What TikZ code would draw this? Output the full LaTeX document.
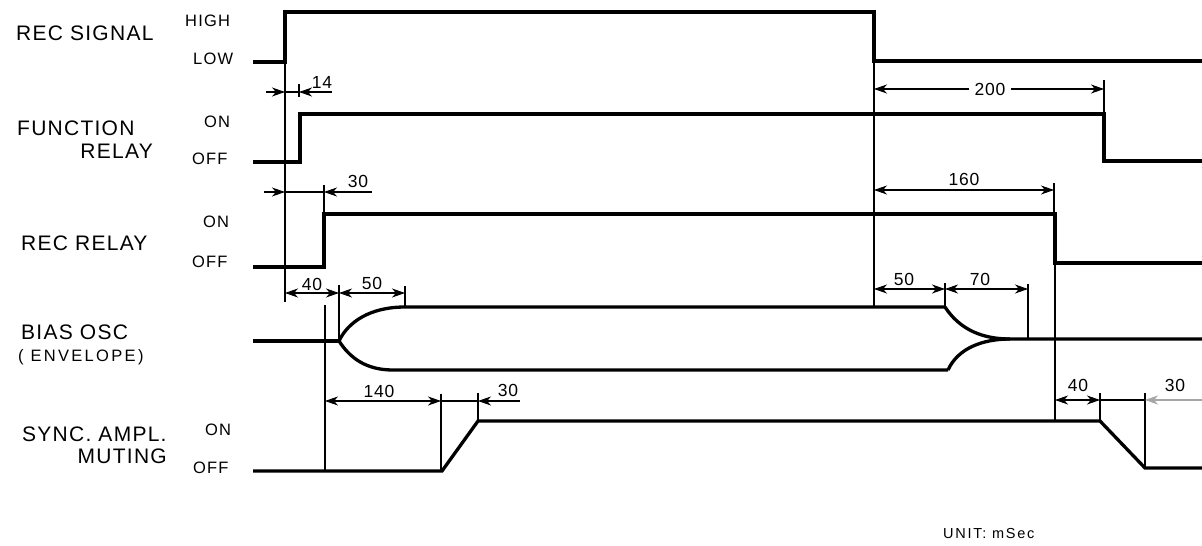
\documentclass[tikz,border=0pt]{standalone}
\usepackage{fontspec}
\setmainfont{Liberation Sans}
\usetikzlibrary{arrows.meta}
\begin{document}
\begin{tikzpicture}[x=1pt,y=-1pt,
  sig/.style={line width=3.3pt, line join=miter},
  ext/.style={line width=1.2pt},
  tipA/.style={line width=1.2pt,-{Stealth[length=13pt,width=9pt,inset=4pt,line width=0.8pt]}},
  bothA/.style={line width=1.2pt,{Stealth[length=13pt,width=9pt,inset=4pt,line width=0.8pt]}-{Stealth[length=13pt,width=9pt,inset=4pt,line width=0.8pt]}},
  biglbl/.style={font=\fontsize{21}{21}\selectfont\addfontfeature{LetterSpace=6}, inner sep=0pt},
  lvl/.style={font=\fontsize{16.5}{16.5}\selectfont\addfontfeature{LetterSpace=7}, inner sep=0pt},
  envlbl/.style={font=\fontsize{16.5}{16.5}\selectfont\addfontfeature{LetterSpace=14}, inner sep=0pt},
  num/.style={font=\fontsize{17.5}{17.5}\selectfont\addfontfeature{LetterSpace=5}, inner sep=0pt},
]
\path[use as bounding box] (0,0) rectangle (1202,546);

% ---------- left labels ----------
\node[biglbl, anchor=base west] (lrec) at (16,40) {REC SIGNAL};
\node[lvl, anchor=base west] (lhigh) at (185,26) {HIGH};
\node[lvl, anchor=base west] (llow) at (193,64) {LOW};
\node[biglbl, anchor=base west] (lfun) at (17,135) {FUNCTION};
\node[biglbl, anchor=base east] (lfun2) at (153,158) {RELAY};
\node[lvl, anchor=base west] (lfon) at (204,127) {ON};
\node[lvl, anchor=base west] (lfoff) at (192,164) {OFF};
\node[biglbl, anchor=base west] (lrr) at (21,250) {REC RELAY};
\node[lvl, anchor=base west] (lron) at (203,227) {ON};
\node[lvl, anchor=base west] (lroff) at (192,267) {OFF};
\node[biglbl, anchor=base west] (lbias) at (21,339) {BIAS OSC};
\node[envlbl, anchor=base west] (lenv) at (18,361) {( ENVELOPE)};
\node[biglbl, anchor=base west] (lsync) at (22,441) {SYNC. AMPL.};
\node[biglbl, anchor=base east] (lmut) at (167,463) {MUTING};
\node[lvl, anchor=base west] (lson) at (205,435) {ON};
\node[lvl, anchor=base west] (lsoff) at (193,473) {OFF};
\node[font=\fontsize{14.5}{14.5}\selectfont\addfontfeature{LetterSpace=12}, inner sep=0pt, anchor=base west] (unit) at (943,538) {UNIT: mSec};

% ---------- signals ----------
\draw[sig] (253,62) -- (285,62) -- (285,12) -- (874,12) -- (874,61) -- (1202,61);
\draw[sig] (253,162) -- (300,162) -- (300,114) -- (1104,114) -- (1104,161) -- (1202,161);
\draw[sig] (253,267) -- (324,267) -- (324,214) -- (1055,214) -- (1055,263) -- (1202,263);
% bias osc envelope
\draw[sig] (253,341) -- (339,341);
\draw[sig] (339,341) .. controls (348,322) and (370,307) .. (405,307) -- (945,307);
\draw[sig] (339,341) .. controls (350,358) and (366,370) .. (393,370) -- (948,370);
\draw[sig] (945,307) .. controls (960,330) and (983,339) .. (1010,339) -- (1202,339);
\draw[sig] (948,370) .. controls (958,348) and (983,339) .. (1010,339);
% sync ampl muting
\draw[sig] (253,471) -- (442,471) -- (478,421) -- (1100,421) -- (1145,468) -- (1202,468);

% ---------- extension lines ----------
\draw[ext] (285,62) -- (285,302);
\draw[ext] (299,84) -- (299,97);
\draw[ext] (324,185) -- (324,214);
\draw[ext] (325,305) -- (325,471);
\draw[ext] (339,285) -- (339,341);
\draw[ext] (405,286) -- (405,307);
\draw[ext] (874,61) -- (874,307);
\draw[ext] (945,283) -- (945,307);
\draw[ext] (1028,284) -- (1028,339);
\draw[ext] (1054,183) -- (1054,214);
\draw[ext] (1055,263) -- (1055,421);
\draw[ext] (1104,80) -- (1104,114);
\draw[ext] (441,394) -- (441,471);
\draw[ext] (478,393) -- (478,421);
\draw[ext] (1100,393) -- (1100,421);
\draw[ext] (1145,393) -- (1145,468);

% ---------- dimensions ----------
% 14
\draw[tipA] (266,92) -- (285,92);
\draw[ext] (285,92) -- (300,92);
\draw[tipA] (332,92) -- (299,92);
\node[num] (d14) at (322,82) {14};
% 30 (rec relay)
\draw[tipA] (264,192) -- (285,192);
\draw[ext] (285,192) -- (324,192);
\draw[tipA] (372,192) -- (324,192);
\node[num] (d30a) at (358,181) {30};
% 40 / 50 (bias start)
\draw[bothA] (285,293) -- (339,293);
\draw[bothA] (339,293) -- (405,293);
\node[num] (d40a) at (312,284) {40};
\node[num] (d50a) at (372,283) {50};
% 200
\draw[bothA] (874,89) -- (1104,89);
\node[num, fill=white, inner xsep=6pt, inner ysep=2pt] (d200) at (990,89) {200};
% 160
\draw[bothA] (874,190) -- (1054,190);
\node[num] (d160) at (964,179) {160};
% 50 / 70 (bias end)
\draw[bothA] (874,289) -- (945,289);
\draw[bothA] (945,289) -- (1028,289);
\node[num] (d50b) at (904,279) {50};
\node[num] (d70) at (980,279) {70};
% 140 / 30 (sync start)
\draw[bothA] (325,401) -- (441,401);
\draw[ext] (441,401) -- (478,401);
\draw[tipA] (520,401) -- (478,401);
\node[num] (d140) at (379,391) {140};
\node[num] (d30b) at (508,390) {30};
% 40 / 30 (sync end)
\draw[bothA] (1055,400) -- (1100,400);
\draw[ext] (1100,400) -- (1145,400);
\draw[tipA, draw=gray!70, fill=gray!70] (1202,400) -- (1145,400);
\node[num] (d40b) at (1078,385) {40};
\node[num] (d30c) at (1175,385) {30};
\end{tikzpicture}
\end{document}
